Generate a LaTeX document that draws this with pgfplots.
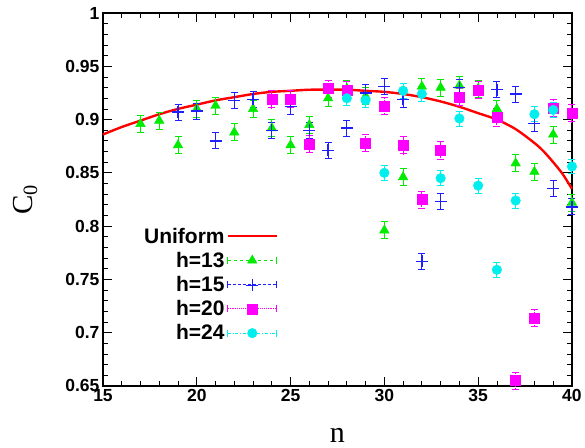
\documentclass[border=0pt]{standalone}
\usepackage{fontspec}
\setmainfont{Liberation Sans}
\newfontfamily\seriffont{Liberation Serif}
\usepackage{pgfplots}
\pgfplotsset{compat=1.18}

\definecolor{cred}{RGB}{255,0,0}
\definecolor{cgreen}{RGB}{0,235,0}
\definecolor{cblue}{RGB}{30,30,255}
\definecolor{cmag}{RGB}{255,0,255}
\definecolor{ccyan}{RGB}{0,238,238}

% legend sample: line with end caps and the marker in the middle
\pgfplotsset{
  errleg/.style n args={3}{
    legend image code/.code={
      \draw[#1,#2,line width=0.9pt] (0pt,0pt)--(49pt,0pt);
      \draw[#1,line width=0.9pt] (0pt,-3.5pt)--(0pt,3.5pt) (49pt,-3.5pt)--(49pt,3.5pt);
      \draw[#1,fill=#1,solid] plot[only marks,#3] coordinates {(24.5pt,0pt)};
    }
  },
  errplot/.style n args={4}{
    only marks, color=#1, mark=#3, mark options={solid,#4},
    error bars/y dir=both, error bars/y explicit,
    error bars/error bar style={#2,line width=0.9pt},
    error bars/error mark options={solid,rotate=90,mark size=3.5pt,line width=0.9pt},
  },
}

\begin{document}
\begin{tikzpicture}
\begin{axis}[
  scale only axis,
  width=469pt, height=373pt,
  xmin=15, xmax=40, ymin=0.65, ymax=1,
  xtick={15,20,...,40},
  ytick={0.65,0.7,...,1.01},
  minor x tick num=4, minor y tick num=4,
  tick align=inside,
  major tick length=9pt, minor tick length=5pt,
  tick style={black, line width=0.8pt},
  axis line style={line width=1.2pt},
  ticklabel style={font=\bfseries\fontsize{17.5}{17.5}\selectfont},
  /pgf/number format/.cd, fixed, precision=2, assume math mode=true,
  /pgfplots/.cd,
  xlabel={n},
  xlabel style={font=\seriffont\fontsize{30}{30}\selectfont, inner sep=0pt, at={(axis description cs:0.5,-0.133)}, anchor=center},
  ylabel={C\textsubscript{0}},
  ylabel style={font=\seriffont\fontsize{29}{29}\selectfont, inner sep=0pt, at={(axis description cs:-0.166,0.5)}, anchor=center},
  clip=false,
  legend plot pos=right,
  legend cell align=right,
  legend style={at={(axis description cs:0.38,0.435)}, anchor=north east, draw=none, fill=none,
    font=\bfseries\fontsize{21}{21}\selectfont, row sep=3.5pt},
]
% Uniform
\addplot[cred, line width=2.4pt, smooth, mark=none,
  legend image code/.code={\draw[cred,line width=2.4pt] (0pt,0pt)--(49pt,0pt);}] coordinates {
  (15,0.886) (16,0.893) (17,0.899) (18,0.905) (19,0.910) (20,0.914)
  (21,0.918) (22,0.921) (23,0.924) (24,0.926) (25,0.927) (26,0.928)
  (27,0.928) (28,0.928) (29,0.927) (30,0.926) (31,0.924) (32,0.921)
  (33,0.917) (34,0.912) (35,0.906) (36,0.900) (37,0.891) (38,0.878)
  (38.5,0.870) (39,0.860) (39.5,0.849) (40,0.835)
};
\addlegendentry{Uniform}

% h=13
\addlegendimage{errleg={cgreen}{dashed}{mark=triangle*,mark size=5.5pt}}
\addlegendentry{h=13}
\addplot[forget plot, errplot={cgreen}{solid}{triangle*}{}, mark size=5.5pt] coordinates {
  (17,0.896) +- (0,0.008) (18,0.899) +- (0,0.008) (19,0.876) +- (0,0.008)
  (20,0.910) +- (0,0.008) (21,0.913) +- (0,0.008) (22,0.888) +- (0,0.008)
  (23,0.910) +- (0,0.008) (24,0.892) +- (0,0.008) (25,0.876) +- (0,0.008)
  (26,0.895) +- (0,0.008) (27,0.920) +- (0,0.008) (28,0.929) +- (0,0.008)
  (29,0.922) +- (0,0.008) (30,0.796) +- (0,0.008) (31,0.846) +- (0,0.008)
  (32,0.931) +- (0,0.008) (33,0.930) +- (0,0.008) (34,0.932) +- (0,0.008)
  (35,0.929) +- (0,0.008) (36,0.910) +- (0,0.008) (37,0.859) +- (0,0.008)
  (38,0.851) +- (0,0.008) (39,0.886) +- (0,0.008) (40,0.822) +- (0,0.008)
};

% h=15
\addlegendimage{errleg={cblue}{densely dashed}{mark=+,mark size=6pt,line width=1.3pt}}
\addlegendentry{h=15}
\addplot[forget plot, errplot={cblue}{densely dashed}{+}{line width=1.3pt}, mark size=6pt] coordinates {
  (19,0.907) +- (0,0.0075) (20,0.908) +- (0,0.0075) (21,0.880) +- (0,0.0075)
  (22,0.918) +- (0,0.0075) (23,0.919) +- (0,0.0075) (24,0.890) +- (0,0.0075)
  (25,0.912) +- (0,0.0075) (26,0.890) +- (0,0.0075) (27,0.871) +- (0,0.0075)
  (28,0.892) +- (0,0.0075) (29,0.925) +- (0,0.0075) (30,0.931) +- (0,0.0075)
  (31,0.919) +- (0,0.0075) (32,0.767) +- (0,0.0075) (33,0.823) +- (0,0.0075)
  (34,0.930) +- (0,0.0075) (36,0.928) +- (0,0.0075) (37,0.924) +- (0,0.0075)
  (38,0.896) +- (0,0.0075) (39,0.835) +- (0,0.0075) (40,0.818) +- (0,0.0075)
};

% h=20
\addlegendimage{errleg={cmag}{densely dotted}{mark=square*,mark size=5pt}}
\addlegendentry{h=20}
\addplot[forget plot, errplot={cmag}{densely dotted}{square*}{}, mark size=5pt] coordinates {
  (24,0.919) +- (0,0.008) (25,0.919) +- (0,0.008) (26,0.877) +- (0,0.008)
  (27,0.929) +- (0,0.008) (28,0.928) +- (0,0.008) (29,0.878) +- (0,0.008)
  (30,0.913) +- (0,0.008) (31,0.876) +- (0,0.008) (32,0.825) +- (0,0.008)
  (33,0.871) +- (0,0.008) (34,0.921) +- (0,0.008) (35,0.928) +- (0,0.008)
  (36,0.902) +- (0,0.008) (37,0.655) +- (0,0.008) (38,0.714) +- (0,0.008)
  (39,0.911) +- (0,0.008) (40,0.906) +- (0,0.008)
};

% h=24
\addlegendimage{errleg={ccyan}{dash dot}{mark=*,mark size=4.8pt}}
\addlegendentry{h=24}
\addplot[forget plot, errplot={ccyan}{solid}{*}{}, mark size=4.8pt] coordinates {
  (28,0.920) +- (0,0.007) (29,0.918) +- (0,0.007) (30,0.850) +- (0,0.007)
  (31,0.927) +- (0,0.007) (32,0.924) +- (0,0.007) (33,0.845) +- (0,0.007)
  (34,0.901) +- (0,0.007) (35,0.838) +- (0,0.007) (36,0.759) +- (0,0.007)
  (37,0.824) +- (0,0.007) (38,0.905) +- (0,0.007) (39,0.909) +- (0,0.007)
  (40,0.856) +- (0,0.007)
};
\end{axis}
\path (current axis.south west) ++(-103pt,-62pt) rectangle ++(585pt,448pt);
\end{tikzpicture}
\end{document}
